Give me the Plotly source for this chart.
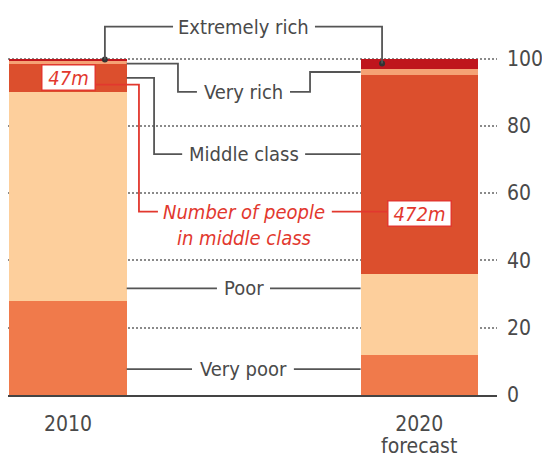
import plotly.graph_objects as go

# ---------------- data ----------------
years = ["2010", "2020"]
year_notes = ["", "forecast"]
segments = ["Very poor", "Poor", "Middle class", "Very rich", "Extremely rich"]
very_poor = [28, 12]
poor = [62, 24]
middle_class = [8.5, 59]
very_rich = [1, 2]
extremely_rich = [0.5, 3]
middle_people = ["47m", "472m"]
y_ticks = [0, 20, 40, 60, 80, 100]

# ---------------- style ----------------
FONT = "Liberation Sans Narrow, DejaVu Sans Condensed, Liberation Sans, sans-serif"
GREY_TXT = "#4a4a4a"
LINE = "#555555"
RED = "#E2382E"
colors = ["#F07A4B", "#FDCF9C", "#DC4F2D", "#F5A275", "#BF151C"]
series = [very_poor, poor, middle_class, very_rich, extremely_rich]
LBL = 20
TCK = 21

xs = [0, 1]
BW = 0.334
EDGE_L = xs[0] + BW / 2       # right edge of 2010 bar
EDGE_R = xs[1] - BW / 2       # left edge of 2020 bar
Y_TOP = 117.4

fig = go.Figure()
for name, vals, col in zip(segments, series, colors):
    fig.add_trace(go.Bar(x=xs, y=vals, name=name, width=BW,
                         marker=dict(color=col, line=dict(width=0)),
                         hoverinfo="skip", showlegend=False))

def base(i, k):
    return sum(s[i] for s in series[:k])

def mid(i, k):
    return base(i, k) + series[k][i] / 2

er_mid = [mid(0, 4), mid(1, 4)]
vr_b = base(0, 3)
vr_mid_r = mid(1, 3)
mc_mid_l = mid(0, 2)

fig.add_trace(go.Scatter(x=[0.105, 0.894], y=er_mid, mode="markers",
                         marker=dict(color="#333333", size=6),
                         hoverinfo="skip", showlegend=False))

Y_EX, Y_VR, Y_MC, Y_NP, Y_NP2, Y_POOR, Y_VP = 109.5, 90.1, 71.6, 54.5, 46.7, 31.7, 7.7

def path(pts):
    return "M " + " L ".join(f"{x},{y}" for x, y in pts)

leaders = [
    ([(0.105, er_mid[0]), (0.105, Y_EX), (0.299, Y_EX)], LINE),
    ([(0.703, Y_EX), (0.894, Y_EX), (0.894, er_mid[1])], LINE),
    ([(EDGE_L, vr_b), (0.313, vr_b), (0.313, Y_VR), (0.367, Y_VR)], LINE),
    ([(0.632, Y_VR), (0.689, Y_VR), (0.689, vr_mid_r), (EDGE_R, vr_mid_r)], LINE),
    ([(EDGE_L, mc_mid_l), (0.245, mc_mid_l), (0.245, Y_MC), (0.325, Y_MC)], LINE),
    ([(0.675, Y_MC), (EDGE_R, Y_MC)], LINE),
    ([(0.077, mc_mid_l - 2.0), (0.202, mc_mid_l - 2.0), (0.202, Y_NP), (0.256, Y_NP)], RED),
    ([(0.751, Y_NP), (0.908, Y_NP)], RED),
    ([(EDGE_L, Y_POOR), (0.424, Y_POOR)], LINE),
    ([(0.575, Y_POOR), (EDGE_R, Y_POOR)], LINE),
    ([(EDGE_L, Y_VP), (0.353, Y_VP)], LINE),
    ([(0.643, Y_VP), (EDGE_R, Y_VP)], LINE),
]
shapes = [dict(type="path", xref="x", yref="y", path=path(p), layer="above",
               line=dict(color=c, width=1.8)) for p, c in leaders]

ann = []
def label(text, x, y, color=GREY_TXT, italic=False, size=LBL, yref="y", **kw):
    d = dict(text=text, x=x, y=y, xref="x", yref=yref, showarrow=False,
             xanchor="center", yanchor="middle",
             font=dict(family=FONT, size=size, color=color,
                       style="italic" if italic else "normal"))
    d.update(kw)
    ann.append(d)

label(segments[4], 0.5, Y_EX)
label(segments[3], 0.5, Y_VR)
label(segments[2], 0.5, Y_MC)
label("Number of people", 0.5, Y_NP, color=RED, italic=True)
label("in middle class", 0.5, Y_NP2, color=RED, italic=True)
label(segments[1], 0.5, Y_POOR)
label(segments[0], 0.5, Y_VP)
label(middle_people[0], xs[0], mc_mid_l, color=RED, italic=True,
      bgcolor="white", bordercolor=RED, borderwidth=1.5, borderpad=1,
      width=50, height=22)
label(middle_people[1], xs[1], 54.0, color=RED, italic=True,
      bgcolor="white", bordercolor=RED, borderwidth=1.5, borderpad=1,
      width=60, height=22)
label(year_notes[1], xs[1], -0.128, size=TCK, yref="paper")

fig.update_layout(
    width=542, height=461,
    margin=dict(l=8, r=45, t=0, b=66, pad=0),
    paper_bgcolor="white", plot_bgcolor="white",
    barmode="stack", bargap=0,
    shapes=shapes, annotations=ann,
    font=dict(family=FONT, size=LBL, color=GREY_TXT),
    xaxis=dict(range=[-0.1708, 1.2212], tickvals=xs, ticktext=years,
               showgrid=False, zeroline=False, showline=True,
               linecolor="#444444", linewidth=2, ticks="",
               tickfont=dict(family=FONT, size=TCK, color=GREY_TXT),
               ticklabelstandoff=9, fixedrange=True),
    yaxis=dict(range=[0, Y_TOP], tickvals=y_ticks, side="right",
               showgrid=True, gridcolor="#8a8a8a", gridwidth=2, griddash="2px,2px",
               zeroline=False, showline=False, ticks="",
               tickfont=dict(family=FONT, size=TCK, color=GREY_TXT),
               ticklabelstandoff=9, fixedrange=True),
)

fig.write_html("out.html")
